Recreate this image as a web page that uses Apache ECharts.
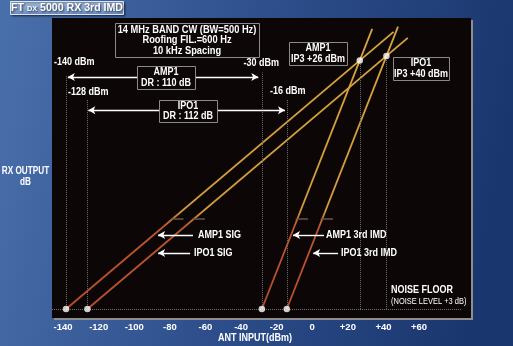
<!DOCTYPE html>
<html><head><meta charset="utf-8">
<script src="https://cdn.jsdelivr.net/npm/echarts@6/dist/echarts.min.js"></script>
<style>html,body{margin:0;padding:0;background:#2a4a86}#c{width:513px;height:346px}</style>
</head><body><div id="c"></div>
<script>
// ---- data (input dBm, output dB above noise floor) ----
const xTicks = [-140, -120, -100, -80, -60, -40, -20, 0, 20, 40, 60];
const amp1Sig = [[-140, 0], [44, 184]];
const ipo1Sig = [[-128, 0], [52, 180]];
const amp1Imd = [[-30, 0], [32, 186]];
const ipo1Imd = [[-16, 0], [46.5, 187.5]];
const noisePoints = [[-140, 0], [-128, 0], [-30, 0], [-16, 0]];
const ip3Points = [[25, 165], [40, 168]];

const F = "'Liberation Sans', Arial, Helvetica, sans-serif";
const lineGrad = {type:'linear', x:0, y:0, x2:0, y2:346, global:true, colorStops:[
  {offset:0, color:'#d8a640'}, {offset:0.605, color:'#d29c3c'},
  {offset:0.655, color:'#bf572e'}, {offset:1, color:'#b24a2a'}]};
function lineSeries(name, data){
  return {name, type:'line', data, showSymbol:false, symbol:'none', silent:true, z:3,
    lineStyle:{width:1.8, color:lineGrad}};
}
function seg(x1, y1, x2, y2, s1, s2){
  return [{coord:[x1, y1], symbol:s1 || 'none'}, {coord:[x2, y2], symbol:s2 || 'none'}];
}
const T = (text, x, y, opt, sx) => ({type:'text', x, y, z:100, silent:true, scaleX:sx || 0.9,
  style:Object.assign({text, x:0, y:0, fill:'#fff', font:'bold 10px ' + F, textAlign:'left', textVerticalAlign:'middle'}, opt || {})});
const R = (x, y, w, h, opt) => ({type:'rect', z:99, silent:true, shape:{x:x + .5, y:y + .5, width:w, height:h},
  style:Object.assign({fill:'#0e0707', stroke:'#8a8a8a', lineWidth:1}, opt || {})});

const chart = echarts.init(document.getElementById('c'), null, {renderer:'canvas'});
chart.setOption({
  animation:false,
  backgroundColor:{type:'linear', x:0, y:0, x2:1, y2:0.3, colorStops:[
    {offset:0, color:'#4a70ac'}, {offset:0.5, color:'#2e4f8c'}, {offset:1, color:'#1a366e'}]},
  grid:{left:52, top:18, width:419, height:300, show:true, backgroundColor:'#0d0606', borderWidth:0,
    shadowColor:'#8e8e8e', shadowOffsetX:2, shadowOffsetY:2, shadowBlur:0},
  xAxis:{type:'value', min:-147.9, max:87.5,
    axisLine:{show:false}, axisTick:{show:false}, splitLine:{show:false},
    axisLabel:{customValues:xTicks, formatter:v => v > 0 ? '+' + v : String(v),
      color:'#fff', fontWeight:'bold', fontSize:9.5, fontFamily:F, margin:4, padding:[0, 6, 0, 0]}},
  yAxis:{type:'value', min:-6, max:193.2, show:false},
  series:[
    {type:'line', data:[], silent:true, markLine:{silent:true, symbol:'none', label:{show:false},
      lineStyle:{type:'dotted', color:'#6e6e6e', width:1},
      data:[
        seg(-140, 0, -140, 155), seg(-128, 0, -128, 139), seg(-30, 0, -30, 157), seg(-16, 0, -16, 139),
        seg(ip3Points[0][0], 0, ip3Points[0][0], ip3Points[0][1]),
        seg(ip3Points[1][0], 0, ip3Points[1][0], ip3Points[1][1]),
        seg(-147.9, 0, 82.5, 0)
      ]}},
    {type:'line', data:[], silent:true, markLine:{silent:true, symbol:'none', label:{show:false},
      lineStyle:{type:'solid', color:'#6b5545', width:1.5},
      data:[seg(-81, 60, -74, 60), seg(-69, 60, -62, 60), seg(-11, 60, -4, 60), seg(3, 60, 10, 60)]}},
    lineSeries('AMP1 SIG', amp1Sig),
    lineSeries('IPO1 SIG', ipo1Sig),
    lineSeries('AMP1 3rd IMD', amp1Imd),
    lineSeries('IPO1 3rd IMD', ipo1Imd),
    {type:'line', data:[], silent:true, markLine:{silent:true, symbolSize:[6, 7], label:{show:false},
      lineStyle:{type:'solid', color:'#ffffff', width:1.4},
      data:[
        seg(-139, 154, -32, 154, 'arrow', 'arrow'),
        seg(-127.5, 132, -17, 132, 'arrow', 'arrow'),
        seg(-88.3, 49.1, -68.7, 49.1, 'arrow'),
        seg(-88.3, 37.2, -70.3, 37.2, 'arrow'),
        seg(-12.5, 49.1, 4.9, 49.1, 'arrow'),
        seg(-1.2, 37.2, 12.8, 37.2, 'arrow')
      ]}},
    {type:'scatter', data:noisePoints.concat(ip3Points), symbol:'circle', symbolSize:6.5, silent:true, z:5,
      itemStyle:{color:'#ffffff'}}
  ],
  graphic:[
    {type:'rect', z:99, silent:true, shape:{x:10.5, y:1.5, width:113, height:13},
      style:{fill:{type:'linear', x:0, y:0, x2:0, y2:1, colorStops:[{offset:0, color:'#a6bde0'}, {offset:1, color:'#6a8bc2'}]},
        stroke:'#dbe4f2', lineWidth:1, shadowColor:'rgba(0,0,0,0.45)', shadowBlur:2, shadowOffsetX:1, shadowOffsetY:1}},
    {type:'text', x:67, y:8, z:100, silent:true, scaleX:0.92, style:{
      text:'{a|FT }{b|DX}{a| 5000 RX 3rd IMD}', x:0, y:0, textAlign:'center', textVerticalAlign:'middle',
      textShadowColor:'rgba(0,0,0,0.7)', textShadowBlur:2, textShadowOffsetX:1, textShadowOffsetY:1,
      rich:{a:{font:'bold 11.5px ' + F, fill:'#fff', verticalAlign:'bottom'},
            b:{font:'bold 8px ' + F, fill:'#fff', verticalAlign:'bottom', padding:[0, 0, 1, 0]}}}},
    R(115, 23, 144, 34),
    T('14 MHz BAND CW (BW=500 Hz)\nRoofing FIL.=600 Hz\n10 kHz Spacing', 187, 40.5, {textAlign:'center', lineHeight:10.5}, 0.93),
    T('-140 dBm', 54, 62),
    T('-30 dBm', 279, 63, {textAlign:'right'}),
    T('-128 dBm', 68, 92),
    T('-16 dBm', 270, 91),
    R(137, 66, 58, 23),
    T('AMP1\nDR : 110 dB', 166, 77.5, {textAlign:'center', lineHeight:10.5}),
    R(159, 100, 58, 22),
    T('IPO1\nDR : 112 dB', 188, 111, {textAlign:'center', lineHeight:10.5}),
    R(289, 42, 58, 23),
    T('AMP1\nIP3 +26 dBm', 318, 53.5, {textAlign:'center', lineHeight:10.5}),
    R(393, 57, 56, 23),
    T('IPO1\nIP3 +40 dBm', 421, 68.5, {textAlign:'center', lineHeight:10.5}),
    T('AMP1 SIG', 198, 235),
    T('IPO1 SIG', 194, 253),
    T('AMP1 3rd IMD', 326, 235),
    T('IPO1 3rd IMD', 341, 253),
    T('NOISE FLOOR', 391, 290),
    T('(NOISE LEVEL +3 dB)', 391, 301.5, {font:'8.5px ' + F}, 0.88),
    T('RX OUTPUT\ndB', 25.5, 176.5, {textAlign:'center', lineHeight:11}, 0.82),
    T('ANT INPUT(dBm)', 255, 338.5, {textAlign:'center'})
  ]
});
</script></body></html>
